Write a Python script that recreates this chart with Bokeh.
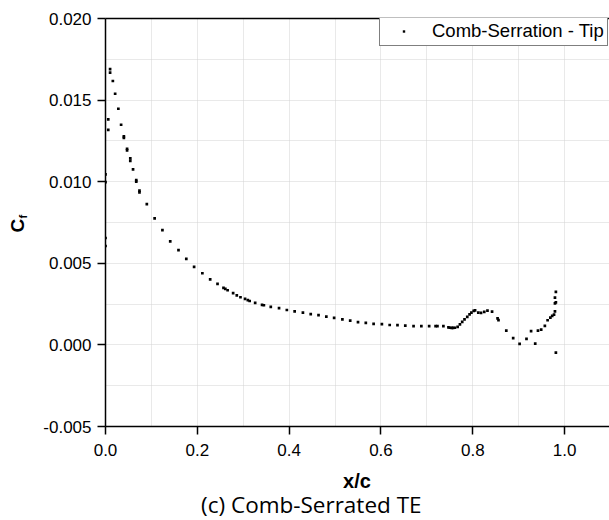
import math
from bokeh.plotting import figure
from bokeh.layouts import column, row
from bokeh.models import (Range1d, FixedTicker, NumeralTickFormatter, LinearAxis,
                          Legend, LegendItem)
from bokeh.core.properties import value
from bokeh.embed import file_html
from bokeh.resources import INLINE

# ---- data: Comb-Serration - Tip, skin friction coefficient ----
x_c = [0.000, 0.000, 0.000, 0.000,
       0.006, 0.006, 0.010, 0.010,
       0.016, 0.021, 0.028, 0.034,
       0.040, 0.040, 0.047, 0.047,
       0.054, 0.054, 0.060, 0.067, 0.067,
       0.074, 0.074, 0.090, 0.107, 0.124, 0.141, 0.159, 0.176, 0.193,
       0.211, 0.228, 0.244, 0.257, 0.261, 0.266, 0.278, 0.286, 0.294,
       0.304, 0.310, 0.314, 0.326, 0.341, 0.345, 0.360, 0.378, 0.395,
       0.412, 0.430, 0.447, 0.464, 0.481, 0.498, 0.516, 0.533, 0.550,
       0.567, 0.584, 0.602, 0.619, 0.636, 0.653, 0.671, 0.688, 0.705,
       0.719, 0.723, 0.736,
       0.747, 0.750, 0.754, 0.757, 0.761, 0.767, 0.772, 0.777, 0.782,
       0.788, 0.793, 0.797, 0.802, 0.805, 0.812, 0.818, 0.825, 0.832,
       0.842, 0.854, 0.856, 0.873, 0.888, 0.902, 0.917, 0.927, 0.936,
       0.942, 0.949, 0.957, 0.963, 0.969, 0.973, 0.977, 0.979, 0.979,
       0.981, 0.979, 0.981, 0.981]
cf = [0.01045, 0.00998, 0.00655, 0.00606,
      0.01382, 0.01318, 0.01690, 0.01668,
      0.01617, 0.01539, 0.01447, 0.01349,
      0.01278, 0.01268, 0.01202, 0.01192,
      0.01143, 0.01127, 0.01076, 0.01010, 0.01000,
      0.00945, 0.00935, 0.00863, 0.00775, 0.00703, 0.00634, 0.00581, 0.00527, 0.00478,
      0.00439, 0.00402, 0.00374, 0.00349, 0.00343, 0.00335, 0.00317, 0.00304, 0.00292,
      0.00282, 0.00274, 0.00269, 0.00257, 0.00245, 0.00243, 0.00233, 0.00225, 0.00214,
      0.00206, 0.00198, 0.00189, 0.00182, 0.00173, 0.00165, 0.00157, 0.00149, 0.00139,
      0.00135, 0.00129, 0.00127, 0.00122, 0.00121, 0.00118, 0.00115, 0.00115, 0.00115,
      0.00115, 0.00115, 0.00115,
      0.00107, 0.00105, 0.00104, 0.00104, 0.00105, 0.00111, 0.00126, 0.00141, 0.00156,
      0.00172, 0.00187, 0.00198, 0.00208, 0.00212, 0.00198, 0.00196, 0.00202, 0.00210,
      0.00204, 0.00162, 0.00152, 0.00088, 0.00041, 0.00006, 0.00037, 0.00084, 0.00008,
      0.00088, 0.00094, 0.00116, 0.00151, 0.00167, 0.00178, 0.00186, 0.00206, 0.00255,
      0.00261, 0.00290, 0.00325, -0.00047]

x_ticks = [0.0, 0.2, 0.4, 0.6, 0.8, 1.0]
x_minor = [0.1, 0.3, 0.5, 0.7, 0.9]
y_ticks = [-0.005, 0.000, 0.005, 0.010, 0.015, 0.020]
y_minor = [-0.0025, 0.0025, 0.0075, 0.0125, 0.0175]
series_name = "Comb-Serration - Tip"
x_label = "x/c"
y_label_main = "C"
y_label_sub = "f"
caption = "(c) Comb-Serrated TE"

W, H = 609, 520
LEFT_W = 40            # strip holding the rotated C_f label
MAIN_H = 466           # main plot (frame 18..426)
CAP_H = H - MAIN_H     # strip holding x/c and the caption
MAIN_W = W - LEFT_W
TOP_B, BOT_B = 18, MAIN_H - 426


def blank(width, height, y_range, **kw):
    f = figure(width=width, height=height, output_backend="svg",
               toolbar_location=None, x_range=Range1d(0, width),
               y_range=y_range, x_axis_location=None,
               y_axis_location=None, **kw)
    f.title = None
    f.outline_line_color = None
    f.grid.grid_line_color = None
    f.background_fill_color = "white"
    f.border_fill_color = "white"
    return f


# ---- main plot ----
p = figure(width=MAIN_W, height=MAIN_H, output_backend="svg", toolbar_location=None,
           x_range=Range1d(0, 1.0978), y_range=Range1d(-0.005, 0.020),
           min_border_left=64, min_border_right=0, min_border_top=TOP_B,
           min_border_bottom=BOT_B)
p.title = None
p.outline_line_color = None
p.background_fill_color = "white"
p.border_fill_color = "white"

r = p.scatter(x_c, cf, marker="square", size=2.7, fill_color="black", line_color=None)

p.xaxis.ticker = FixedTicker(ticks=x_ticks, minor_ticks=x_minor)
p.yaxis.ticker = FixedTicker(ticks=y_ticks, minor_ticks=y_minor)
p.xaxis.formatter = NumeralTickFormatter(format="0.0")
p.yaxis.formatter = NumeralTickFormatter(format="0.000")
for ax in (p.xaxis[0], p.yaxis[0]):
    ax.axis_line_color = "black"
    ax.axis_line_width = 1.5
    ax.major_tick_line_color = "black"
    ax.major_tick_line_width = 1.5
    ax.major_tick_out = 8
    ax.major_tick_in = 0
    ax.minor_tick_line_color = None
    ax.major_label_text_font = "Liberation Sans"
    ax.major_label_text_font_size = "17px"
    ax.major_label_text_color = "black"
p.xaxis.major_label_standoff = 9
p.yaxis.major_label_standoff = 6

top = LinearAxis(ticker=FixedTicker(ticks=[]), axis_line_color="black",
                 axis_line_width=1.5, major_tick_line_color=None,
                 minor_tick_line_color=None, major_label_text_font_size="0px")
p.add_layout(top, "above")

for g in (p.xgrid[0], p.ygrid[0]):
    g.grid_line_color = "#d2d2d2"
    g.grid_line_dash = "1 1"
    g.grid_line_width = 1
    g.minor_grid_line_color = "#d2d2d2"
    g.minor_grid_line_dash = "1 1"
    g.minor_grid_line_width = 1

legend = Legend(items=[LegendItem(label=series_name, renderers=[r])],
                location=(274, 380), padding=3, spacing=0, margin=0,
                glyph_width=41, glyph_height=6, label_height=22,
                label_standoff=8,
                label_text_font="Liberation Sans", label_text_font_size="18.5px",
                label_text_color="black", border_line_color="black",
                border_line_width=1, background_fill_color="white",
                background_fill_alpha=1.0)
p.add_layout(legend)

# ---- left strip: rotated C_f (frame aligned with the main frame) ----
yl = blank(LEFT_W, MAIN_H, Range1d(BOT_B, MAIN_H - TOP_B),
           min_border_left=0, min_border_right=0,
           min_border_top=TOP_B, min_border_bottom=BOT_B)
yl.text(x=[17.4], y=[MAIN_H - 232], text=[y_label_main], angle=math.pi / 2,
        text_font=value("Liberation Sans"), text_font_size=value("19px"),
        text_font_style="bold", text_align="left", text_baseline="alphabetic",
        text_color="black")
yl.text(x=[22.6], y=[MAIN_H - 218], text=[y_label_sub], angle=math.pi / 2,
        text_font=value("Liberation Sans"), text_font_size=value("11px"),
        text_font_style="bold", text_align="left", text_baseline="alphabetic",
        text_color="black")

# ---- bottom strip: x/c and caption ----
cap = blank(W, CAP_H, Range1d(0, CAP_H), min_border=0)
cap.text(x=[356.5], y=[H - 480.3], text=[x_label],
         text_font=value("Liberation Sans"), text_font_size=value("20px"),
         text_font_style="bold", text_align="center", text_baseline="alphabetic",
         text_color="black")
cap.text(x=[310.8], y=[H - 503.6], text=[caption],
         text_font=value("Open Sans"), text_font_size=value("22.5px"),
         text_align="center", text_baseline="alphabetic", text_color="black")

layout = column(row(yl, p, spacing=0), cap, spacing=0)
open("out.html", "w").write(file_html(layout, INLINE))
